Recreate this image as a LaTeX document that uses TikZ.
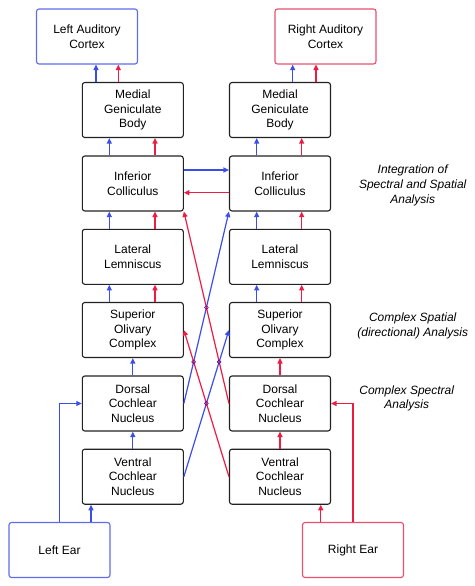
\documentclass[tikz,border=0pt]{standalone}
\usepackage{fontspec}
\setmainfont{Liberation Sans}
\usetikzlibrary{arrows.meta,intersections,calc}
\definecolor{cblue}{RGB}{60,78,232}
\definecolor{cred}{RGB}{238,28,68}
\definecolor{lblue}{RGB}{95,108,236}
\definecolor{lred}{RGB}{232,80,110}
\definecolor{bord}{RGB}{34,34,34}
\begin{document}
\begin{tikzpicture}[x=1pt,y=-1pt,
  font=\fontsize{12}{14.7}\selectfont,
  box/.style={draw=bord,line width=1.1pt,rounded corners=2.5pt,minimum width=101pt,minimum height=55pt,inner sep=0pt,align=center,fill=white},
  bbox/.style={box,draw=lblue},
  rbox/.style={box,draw=lred},
  bl/.style={draw=cblue,line width=1.2pt,-{Triangle[length=5.5pt,width=5pt]}},
  rd/.style={draw=cred,line width=1.2pt,-{Triangle[length=5.5pt,width=5pt]}},
  bln/.style={draw=cblue,line width=1.2pt},
  rdn/.style={draw=cred,line width=1.2pt},
  note/.style={align=center,font=\fontsize{12}{14.7}\selectfont\itshape},
  hop/.style={draw=blue!55!red,line width=0.6pt}]
\useasboundingbox (0,0) rectangle (474,586);
% nodes
\node[bbox] (lcx) at (87,36.5) {Left Auditory\\Cortex};
\node[rbox] (rcx) at (325.5,36.5) {Right Auditory\\Cortex};
\node[box] (lmgb) at (132.8,110) {Medial\\Geniculate\\Body};
\node[box] (rmgb) at (280,110) {Medial\\Geniculate\\Body};
\node[box] (lic) at (132.8,183.5) {Inferior\\Colliculus};
\node[box] (ric) at (280,183.5) {Inferior\\Colliculus};
\node[box] (lll) at (132.8,256.8) {Lateral\\Lemniscus};
\node[box] (rll) at (280,256.8) {Lateral\\Lemniscus};
\node[box] (lsoc) at (132.8,330) {Superior\\Olivary\\Complex};
\node[box] (rsoc) at (280,330) {Superior\\Olivary\\Complex};
\node[box] (ldcn) at (132.8,403.5) {Dorsal\\Cochlear\\Nucleus};
\node[box] (rdcn) at (280,403.5) {Dorsal\\Cochlear\\Nucleus};
\node[box] (lvcn) at (132.8,476.7) {Ventral\\Cochlear\\Nucleus};
\node[box] (rvcn) at (280,476.7) {Ventral\\Cochlear\\Nucleus};
\node[bbox] (lear) at (59.5,550) {Left Ear};
\node[rbox] (rear) at (353,550) {Right Ear};
\node[note] (n1) at (412.7,185.5) {Integration of\\Spectral and Spatial\\Analysis};
\node[note] (n2) at (412.7,326) {Complex Spatial\\(directional) Analysis};
\node[note] (n3) at (406.7,398.5) {Complex Spectral\\Analysis};
% to cortex
\draw[bl] ([xshift=-36.8pt]lmgb.north) -- ([xshift=-36.8pt]lmgb.north |- lcx.south);
\draw[rd] ([xshift=-14.5pt]lmgb.north) -- ([xshift=-14.5pt]lmgb.north |- lcx.south);
\draw[bl] ([xshift=12.7pt]rmgb.north) -- ([xshift=12.7pt]rmgb.north |- rcx.south);
\draw[rd] ([xshift=36pt]rmgb.north) -- ([xshift=36pt]rmgb.north |- rcx.south);
% vertical chains
\foreach \a/\b in {lic/lmgb,lll/lic,lsoc/lll}{
  \draw[bl] ([xshift=-23.5pt]\a.north) -- ([xshift=-23.5pt]\b.south);
  \draw[rd] ([xshift=22.2pt]\a.north) -- ([xshift=22.2pt]\b.south);
}
\foreach \a/\b in {ric/rmgb,rll/ric,rsoc/rll}{
  \draw[bl] ([xshift=-23.3pt]\a.north) -- ([xshift=-23.3pt]\b.south);
  \draw[rd] ([xshift=21.7pt]\a.north) -- ([xshift=21.7pt]\b.south);
}
\draw[bl] (ldcn) -- (lsoc);
\draw[bl] (lvcn) -- (ldcn);
\draw[rd] (rdcn) -- (rsoc);
\draw[rd] (rvcn) -- (rdcn);
% ears
\draw[bl] (lear.north) |- (ldcn.west);
\draw[bl] ([xshift=31.5pt]lear.north) -- ([xshift=31.5pt]lear.north |- lvcn.south);
\draw[rd] (rear.north) |- (rdcn.east);
\draw[rd] ([xshift=-32.3pt]rear.north) -- ([xshift=-32.3pt]rear.north |- rvcn.south);
% IC cross
\draw[bl] ([yshift=13.5pt]lic.east) -- ([yshift=13.5pt]ric.west);
\draw[rd] ([yshift=-9.2pt]ric.west) -- ([yshift=-9.2pt]lic.east);
% crossing lines
\draw[bl,name path=b1] (ldcn.east) -- (ric.south west);
\draw[rd,name path=r1] (rdcn.west) -- (lic.south east);
\draw[bl,name path=b2] (lvcn.east) -- (rsoc.west);
\draw[rd,name path=r2] (rvcn.west) -- (lsoc.east);
\path[name intersections={of=b1 and r1,name=pa}];
\path[name intersections={of=b1 and r2,name=pb}];
\path[name intersections={of=b2 and r1,name=pc}];
\path[name intersections={of=b2 and r2,name=pd}];
\foreach \p in {pa-1,pb-1,pc-1,pd-1}{\draw[hop] (\p) circle (1.9pt);}
\end{tikzpicture}
\end{document}
